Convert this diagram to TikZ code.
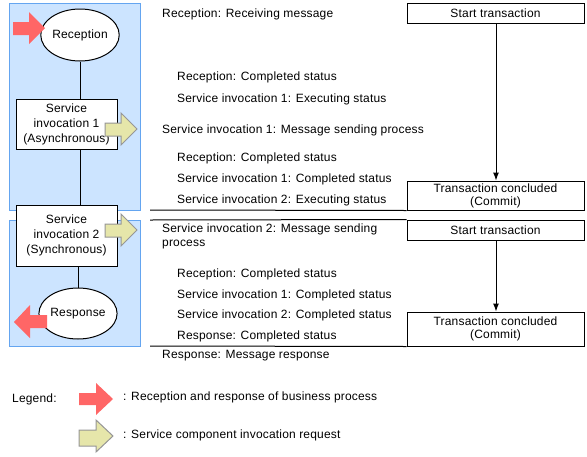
\documentclass[tikz,border=0pt]{standalone}
\usepackage{fontspec}
\setmainfont{Liberation Sans}[LetterSpace=1.5]
\usetikzlibrary{arrows.meta,shapes.geometric}
\definecolor{panelfill}{RGB}{204,228,255}
\definecolor{paneldraw}{RGB}{100,165,240}
\definecolor{redarr}{RGB}{255,102,102}
\definecolor{yelarr}{RGB}{230,230,170}
\definecolor{yeldraw}{RGB}{150,150,150}
\tikzset{
  panel/.style={fill=panelfill, draw=paneldraw, line width=1pt},
  svcbox/.style={draw=black, fill=white, line width=1pt, align=center, inner sep=0pt},
  ell/.style={draw=black, fill=white, line width=1pt, ellipse, inner sep=0pt},
  txbox/.style={draw=black, fill=white, line width=1pt, align=center, inner sep=0pt},
  lbl/.style={anchor=west, inner sep=0pt},
  redshape/.style={fill=redarr, draw=none},
  yelshape/.style={fill=yelarr, draw=yeldraw, line width=1pt},
  conn/.style={draw=black, line width=1pt},
  sep/.style={draw=black, line width=1pt},
}
\begin{document}
\begin{tikzpicture}[x=1pt,y=-1pt,font=\fontsize{12}{15}\selectfont]
\useasboundingbox (0,0) rectangle (587,456);
% panels
\draw[panel] (9,3) rectangle (140,210);
\draw[panel] (9,220) rectangle (140,346);
% left nodes
\node[ell, minimum width=77, minimum height=52] (rec) at (80,35) {Reception};
\node[svcbox, minimum width=101, minimum height=50] (s1) at (66.5,124) {Service\\invocation 1\\(Asynchronous)};
\node[svcbox, minimum width=101, minimum height=61] (s2) at (66.5,235.5) {Service\\invocation 2\\(Synchronous)};
\node[ell, minimum width=74, minimum height=51] (resp) at (78,313.5) {Response};
\draw[conn] (rec.south) -- (rec.south |- s1.north);
\draw[conn] (s1.south -| 80,0) -- (s2.north -| 80,0);
\draw[conn] (s2.south -| 78,0) -- (resp.north);
% red arrows
\path[redshape] (13,22) -- (29,22) -- (29,12) -- (45,28) -- (29,44) -- (29,35) -- (13,35) -- cycle;
\path[redshape] (47,315) -- (30,315) -- (30,305) -- (14,322) -- (30,338) -- (30,328) -- (47,328) -- cycle;
% yellow arrows
\draw[yelshape] (105,123) -- (121,123) -- (121,113) -- (137,129) -- (121,145) -- (121,136) -- (105,136) -- cycle;
\draw[yelshape] (105,224) -- (121,224) -- (121,214) -- (137,230) -- (121,246) -- (121,237) -- (105,237) -- cycle;
% transaction boxes
\node[txbox, minimum width=177, minimum height=20] (st1) at (495.5,13) {Start transaction};
\node[txbox, minimum width=177, minimum height=29] (tc1) at (495.5,195.5) {Transaction concluded\\[-2pt](Commit)};
\node[txbox, minimum width=177, minimum height=20] (st2) at (495.5,230) {Start transaction};
\node[txbox, minimum width=177, minimum height=34] (tc2) at (495.5,329) {Transaction concluded\\[-2pt](Commit)};
\draw[conn, -{Latex[length=8pt,width=6pt]}] (st1.south -| 496,0) -- (tc1.north -| 496,0);
\draw[conn, -{Latex[length=8pt,width=6pt]}] (st2.south -| 496,0) -- (tc2.north -| 496,0);
% separators
\coordinate (a1) at (150,210);
\coordinate (a2) at (150,220);
\coordinate (a3) at (150,346);
\draw[sep] (a1) -- (tc1.south west);
\draw[sep] (a2) -- (st2.north west);
\draw[sep] (a3) -- (tc2.south west);
% labels
\node[lbl] (t1) at (162,14) {Reception: Receiving message};
\node[lbl] (t2) at (177,77) {Reception: Completed status};
\node[lbl] (t3) at (177,99) {Service invocation 1: Executing status};
\node[lbl] (t4) at (162,130) {Service invocation 1: Message sending process};
\node[lbl] (t5) at (177,158) {Reception: Completed status};
\node[lbl] (t6) at (177,179) {Service invocation 1: Completed status};
\node[lbl] (t7) at (177,200) {Service invocation 2: Executing status};
\node[lbl, align=left] (t8) at (162,236) {Service invocation 2: Message sending\\[-1pt]process};
\node[lbl] (t9) at (177,274) {Reception: Completed status};
\node[lbl] (t10) at (177,295) {Service invocation 1: Completed status};
\node[lbl] (t11) at (177,315) {Service invocation 2: Completed status};
\node[lbl] (t12) at (177,336) {Response: Completed status};
\node[lbl] (t13) at (162,356) {Response: Message response};
% legend
\node[lbl] (lg) at (12,399) {Legend:};
\path[redshape] (79,393) -- (96,393) -- (96,383) -- (113,399) -- (96,415) -- (96,405) -- (79,405) -- cycle;
\draw[yelshape] (79,430) -- (96,430) -- (96,420) -- (113,436) -- (96,452) -- (96,446) -- (79,446) -- cycle;
\node[lbl] (lg1) at (123,397) {: Reception and response of business process};
\node[lbl] (lg2) at (123,435) {: Service component invocation request};
\end{tikzpicture}
\end{document}
